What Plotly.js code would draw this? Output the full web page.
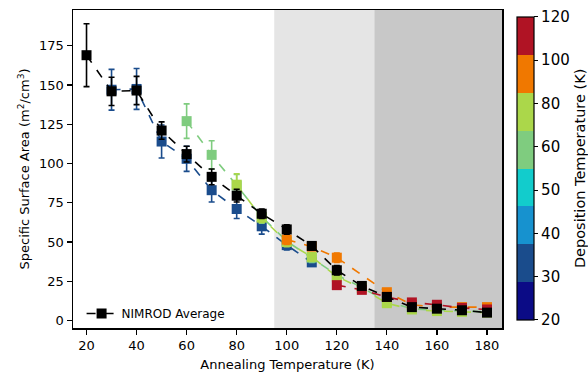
<!DOCTYPE html>
<html>
<head>
<meta charset="utf-8">
<script src="https://cdn.plot.ly/plotly-3.0.1.min.js"></script>
<style>html,body{margin:0;padding:0;background:#fff;}#chart{width:588px;height:373px;}</style>
</head>
<body>
<div id="chart"></div>
<script>
// Data
const avgX   = [20, 30, 40, 50, 60, 70, 80, 90, 100, 110, 120, 130, 140, 150, 160, 170, 180];
const avgY   = [169, 146, 146.5, 121, 106, 91.5, 79.5, 68, 58, 47.5, 32, 22, 15, 8.5, 7.5, 6.5, 5];
const avgErr = [20, 9, 9, 5.5, 5, 5, 4, 3, 3, 2.5, 3, 2, 2, 1.5, 1.5, 1.5, 1.5];

const dep30X   = [30, 40, 50, 60, 70, 80, 90, 100, 110];
const dep30Y   = [147, 147.5, 114, 103, 83, 71, 60, 48, 37];
const dep30Err = [13, 13, 10.5, 8, 7.5, 6, 5, 3, 2.5];

const dep60X   = [60, 70, 80, 90, 100, 110, 120, 130, 140, 150, 160, 170, 180];
const dep60Y   = [127, 105.5, 86, 66, 50.5, 40, 29, 21, 12, 7.5, 6.5, 6, 5.5];
const dep60Err = [11, 9, 7, 4, 3, 3, 2, 2, 2, 1.5, 1.5, 1.5, 1.5];

const dep80X   = [80, 90, 100, 110, 120, 130, 140, 150, 160, 170, 180];
const dep80Y   = [86.5, 65.5, 50, 40.5, 28, 20.5, 11, 7, 6, 5.5, 5];
const dep80Err = [7, 3, 3, 2.5, 2, 2, 1.5, 1.5, 1, 1, 1];

const dep100X   = [100, 110, 120, 140, 150, 160, 170, 180];
const dep100Y   = [51.5, 47, 40, 18, 10, 8.5, 8.5, 8.5];
const dep100Err = [3, 2, 3, 2, 1.5, 1, 1, 1];

const dep120X   = [120, 130, 140, 150, 160, 170, 180];
const dep120Y   = [22.5, 19.5, 15, 11.5, 10, 8, 7];
const dep120Err = [2, 1.5, 1.5, 1.5, 1, 1, 1];

const cbLabels = ['20', '30', '40', '50', '60', '80', '100', '120'];
const cbColors = ['#0b0b86', '#1a4c8c', '#1792cf', '#12cccc', '#7fcc7f', '#abd74a', '#f07800', '#b01324'];

const series = [
  {x: dep30X,  y: dep30Y,  e: dep30Err,  c: cbColors[1]},
  {x: dep60X,  y: dep60Y,  e: dep60Err,  c: cbColors[4]},
  {x: dep80X,  y: dep80Y,  e: dep80Err,  c: cbColors[5]},
  {x: dep100X, y: dep100Y, e: dep100Err, c: cbColors[6]},
  {x: dep120X, y: dep120Y, e: dep120Err, c: cbColors[7]}
];

const traces = series.map(s => ({
  type: 'scatter', mode: 'lines+markers', x: s.x, y: s.y, showlegend: false,
  line: {color: s.c, width: 1.6, dash: 'dash'},
  marker: {symbol: 'square', size: 10, color: s.c},
  error_y: {type: 'data', array: s.e, visible: true, color: s.c, thickness: 1.6, width: 3},
  hoverinfo: 'skip'
}));

traces.push({
  type: 'scatter', mode: 'lines+markers', x: avgX, y: avgY, name: 'NIMROD Average',
  line: {color: '#000', width: 1.6, dash: 'dash'},
  marker: {symbol: 'square', size: 10, color: '#000'},
  error_y: {type: 'data', array: avgErr, visible: true, color: '#000', thickness: 1.6, width: 3}
});

// colorbar: 8 equal colour bins, 8 labels spread evenly from bottom to top
const n = cbColors.length;
const cscale = [];
cbColors.forEach((c, i) => { cscale.push([i / n, c]); cscale.push([(i + 1) / n, c]); });
const tv = cbLabels.map((_, i) => i * n / (cbLabels.length - 1));
traces.push({
  type: 'scatter', mode: 'markers', x: [100], y: [100], showlegend: false, hoverinfo: 'skip',
  marker: {size: 0.1, opacity: 0, color: [0], cmin: 0, cmax: n, colorscale: cscale, showscale: true,
    colorbar: {
      x: 1.035, xanchor: 'left', xref: 'paper', y: 0.502, yanchor: 'middle', len: 0.953, lenmode: 'fraction',
      thickness: 17, outlinecolor: '#000', outlinewidth: 1.2, xpad: 0, ypad: 0,
      tickmode: 'array', tickvals: tv, ticktext: cbLabels,
      ticks: 'outside', ticklen: 4, tickwidth: 1, tickcolor: '#000',
      tickfont: {family: 'DejaVu Sans', size: 15, color: '#000'},
      title: {text: 'Deposition Temperature (K)', side: 'right', font: {family: 'DejaVu Sans', size: 14.5, color: '#000'}}
    }}
});

const layout = {
  width: 588, height: 373,
  margin: {l: 73, r: 86, t: 10, b: 45, autoexpand: false},
  paper_bgcolor: '#fff', plot_bgcolor: '#fff',
  font: {family: 'DejaVu Sans', size: 13, color: '#000'},
  xaxis: {
    range: [14.6, 186], tickvals: [20, 40, 60, 80, 100, 120, 140, 160, 180],
    showgrid: false, zeroline: false, showline: true, linecolor: '#000', linewidth: 1.5, mirror: true,
    ticks: 'outside', ticklen: 5, tickwidth: 1.2, tickcolor: '#000',
    tickfont: {size: 13},
    title: {text: 'Annealing Temperature (K)', font: {size: 13}, standoff: 8}
  },
  yaxis: {
    range: [-4.8, 197.8], tickvals: [0, 25, 50, 75, 100, 125, 150, 175],
    showgrid: false, zeroline: false, showline: true, linecolor: '#000', linewidth: 1.5, mirror: true,
    ticks: 'outside', ticklen: 5, tickwidth: 1.2, tickcolor: '#000',
    tickfont: {size: 13},
    title: {text: 'Specific Surface Area (m<sup>2</sup>/cm<sup>3</sup>)', font: {size: 13}, standoff: 6}
  },
  shapes: [
    {type: 'rect', xref: 'x', yref: 'paper', x0: 95, x1: 135, y0: 0, y1: 1, fillcolor: '#e5e5e5', line: {width: 0}, layer: 'below'},
    {type: 'rect', xref: 'x', yref: 'paper', x0: 135, x1: 186, y0: 0, y1: 1, fillcolor: '#c8c8c8', line: {width: 0}, layer: 'below'}
  ],
  legend: {x: 0.02, y: 0.0, xanchor: 'left', yanchor: 'bottom', bgcolor: 'rgba(0,0,0,0)', borderwidth: 0,
    font: {size: 12}},
  showlegend: true
};

Plotly.newPlot('chart', traces, layout, {displayModeBar: false, staticPlot: true});
</script>
</body>
</html>
